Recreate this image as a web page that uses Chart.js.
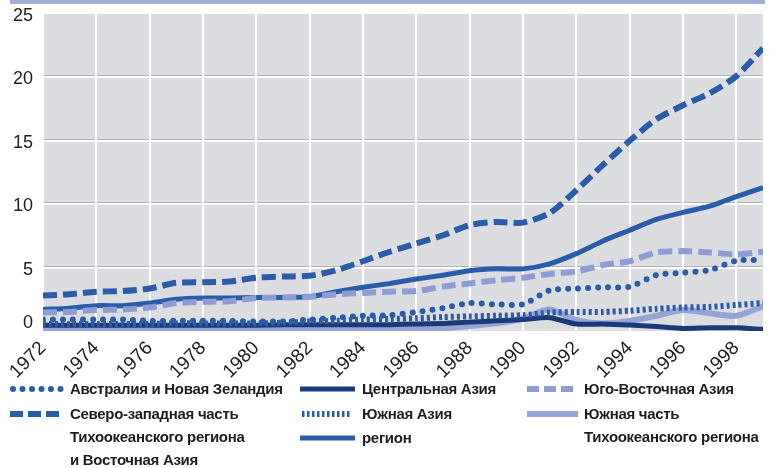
<!DOCTYPE html>
<html><head><meta charset="utf-8">
<script src="https://cdn.jsdelivr.net/npm/chart.js@4"></script>
<style>
html,body{margin:0;padding:0;background:#fff;}
#wrap{position:relative;width:779px;height:468px;overflow:hidden;font-family:"Liberation Sans",Arial,sans-serif;}
#topbar{position:absolute;left:10px;top:0;width:755px;height:4px;background:#a4afd8;}
#cv{position:absolute;left:0;top:0;}
.lg{position:absolute;font-weight:bold;font-size:15px;letter-spacing:-0.3px;color:#1e1e1e;line-height:23px;white-space:nowrap;}
.sw{position:absolute;}
</style></head><body>
<div id="wrap">
<canvas id="cv" width="779" height="381"></canvas>
<div id="topbar"></div>
<div id="legend"></div>
</div>
<script>
const years = [1972,1973,1974,1975,1976,1977,1978,1979,1980,1981,1982,1983,1984,1985,1986,1987,1988,1989,1990,1991,1992,1993,1994,1995,1996,1997,1998,1999];
const xTicks = [1972,1974,1976,1978,1980,1982,1984,1986,1988,1990,1992,1994,1996,1998];
const yTicks = [0,5,10,15,20,25];

const australia   = [0.9,0.9,0.9,0.9,0.8,0.8,0.8,0.8,0.75,0.75,0.9,1.05,1.2,1.25,1.5,1.8,2.2,2.1,2.1,3.2,3.35,3.45,3.5,4.4,4.6,4.8,5.55,5.6];
const nwPacific   = [2.8,2.9,3.1,3.15,3.35,3.8,3.85,3.9,4.2,4.3,4.35,4.8,5.5,6.25,6.9,7.55,8.35,8.6,8.55,9.3,11.1,13.1,15.0,16.7,17.8,18.75,20.1,22.3];
const centralAsia = [0.45,0.45,0.45,0.45,0.45,0.45,0.45,0.45,0.45,0.5,0.5,0.5,0.5,0.5,0.55,0.6,0.7,0.8,0.9,1.05,0.55,0.55,0.47,0.35,0.2,0.25,0.25,0.13];
const southAsia   = [0.55,0.55,0.55,0.55,0.55,0.6,0.6,0.6,0.6,0.65,0.75,0.8,0.9,0.95,1.0,1.1,1.15,1.2,1.25,1.45,1.5,1.5,1.6,1.75,1.85,1.9,2.05,2.2];
const region      = [1.7,1.8,2.0,2.0,2.2,2.5,2.6,2.6,2.65,2.65,2.7,3.1,3.45,3.75,4.1,4.4,4.75,4.9,4.9,5.3,6.1,7.1,7.95,8.8,9.35,9.85,10.6,11.3];
const seAsia      = [1.45,1.5,1.65,1.7,1.85,2.2,2.3,2.35,2.6,2.65,2.7,2.9,3.0,3.1,3.15,3.5,3.75,4.0,4.2,4.5,4.7,5.2,5.5,6.2,6.3,6.2,6.05,6.25];
const southPacific= [0.15,0.15,0.15,0.15,0.15,0.15,0.15,0.15,0.15,0.15,0.15,0.15,0.15,0.15,0.15,0.2,0.4,0.6,1.0,1.7,0.85,0.6,0.8,1.2,1.65,1.4,1.2,1.95];

const MID='#2a5ca9', NAVY='#1a3a78', LIGHT_D='#8e9ed4', LIGHT_S='#96a4d8';

const pts = arr => arr.map((v,i)=>({x:years[i], y:v}));
const base = {pointRadius:0, tension:0.25, fill:false};

const datasets = [
  {...base, label:'Северо-западная часть Тихоокеанского региона и Восточная Азия', data:pts(nwPacific), borderColor:MID, borderWidth:6, borderDash:[14,6]},
  {...base, label:'Юго-Восточная Азия', data:pts(seAsia), borderColor:LIGHT_D, borderWidth:6, borderDash:[14,6]},
  {...base, label:'регион', data:pts(region), borderColor:MID, borderWidth:5},
  {...base, label:'Австралия и Новая Зеландия', data:pts(australia), borderColor:MID, borderWidth:6, borderDash:[0,10], borderCapStyle:'round'},
  {...base, label:'Южная Азия', data:pts(southAsia), borderColor:MID, borderWidth:6, borderDash:[3,3]},
  {...base, label:'Центральная Азия', data:pts(centralAsia), borderColor:NAVY, borderWidth:5},
  {...base, label:'Южная часть Тихоокеанского региона', data:pts(southPacific), borderColor:LIGHT_S, borderWidth:6},
];

const bgPlugin = {
  id:'bg',
  beforeDraw(chart){
    const {ctx, chartArea:a} = chart;
    ctx.save(); ctx.fillStyle='#dcdde0';
    ctx.fillRect(a.left, a.top, a.right-a.left, a.bottom-a.top);
    const y = chart.scales.y;
    ctx.fillStyle='#b4b5b8';
    yTicks.forEach(v=>{ if(v>0 && v<25){ const py=Math.round(y.getPixelForValue(v)); ctx.fillRect(a.left, py-2, a.right-a.left, 1);} });
    ctx.restore();
  },
  afterDraw(chart){
    const {ctx} = chart; const y = chart.scales.y;
    ctx.save();
    ctx.font='18px "Liberation Sans", Arial, sans-serif';
    ctx.fillStyle='#222'; ctx.textAlign='right'; ctx.textBaseline='middle';
    yTicks.forEach(v=>{ let py=y.getPixelForValue(v)+2; if(v===0) py-=10; ctx.fillText(String(v), 33, py); });
    ctx.restore();
  }
};

new Chart(document.getElementById('cv'), {
  type:'line',
  data:{datasets},
  options:{
    responsive:false, animation:false,
    layout:{padding:{left:0,right:16,top:14,bottom:0}},
    plugins:{legend:{display:false}, tooltip:{enabled:false}},
    scales:{
      x:{type:'linear', min:1972, max:1999,
         afterBuildTicks(s){ s.ticks = xTicks.map(v=>({value:v})); },
         afterFit(s){ s.height=50; },
         ticks:{minRotation:45, maxRotation:45, color:'#222', padding:6, font:{family:'"Liberation Sans", Arial, sans-serif', size:19}, callback:v=>String(v)},
         grid:{color:'#ffffff', lineWidth:2, drawTicks:false}, border:{display:false}},
      y:{type:'linear', min:0, max:25,
         afterBuildTicks(s){ s.ticks = yTicks.map(v=>({value:v})); },
         afterFit(s){ s.width=43; },
         ticks:{display:false},
         grid:{color:c=>(c.tick && (c.tick.value===0||c.tick.value===25))?'rgba(0,0,0,0)':'#ffffff', lineWidth:2, drawTicks:false}, border:{display:false}}
    }
  },
  plugins:[bgPlugin]
});

const legendItems = [
  {x:10, y:389, w:52, color:MID, width:6, dash:'0 9.5', cap:'round', text:['Австралия и Новая Зеландия']},
  {x:10, y:414, w:52, color:MID, width:6, dash:'13 5', cap:'butt', text:['Северо-западная часть','Тихоокеанского региона','и Восточная Азия']},
  {x:300, y:389, w:55, color:NAVY, width:5, dash:'', cap:'butt', text:['Центральная Азия']},
  {x:302, y:414, w:48, color:MID, width:6, dash:'2.5 2.5', cap:'butt', text:['Южная Азия']},
  {x:300, y:438, w:55, color:MID, width:5, dash:'', cap:'butt', text:['регион']},
  {x:527, y:389, w:51, color:LIGHT_D, width:6, dash:'12 5', cap:'butt', text:['Юго-Восточная Азия']},
  {x:527, y:414, w:51, color:LIGHT_S, width:6, dash:'', cap:'butt', text:['Южная часть','Тихоокеанского региона']},
];
const textX = {10:70, 300:362, 302:362, 527:584};
const lg = document.getElementById('legend');
legendItems.forEach(it=>{
  const sv = document.createElementNS('http://www.w3.org/2000/svg','svg');
  sv.setAttribute('width', it.w+6); sv.setAttribute('height', 10);
  sv.setAttribute('class','sw');
  sv.style.left=(it.x-3)+'px'; sv.style.top=(it.y-5)+'px';
  const ln = document.createElementNS('http://www.w3.org/2000/svg','line');
  ln.setAttribute('x1', it.cap==='round'?6:3); ln.setAttribute('x2', it.w+3);
  ln.setAttribute('y1',5); ln.setAttribute('y2',5);
  ln.setAttribute('stroke', it.color); ln.setAttribute('stroke-width', it.width);
  if(it.dash) ln.setAttribute('stroke-dasharray', it.dash);
  ln.setAttribute('stroke-linecap', it.cap);
  sv.appendChild(ln); lg.appendChild(sv);
  const d = document.createElement('div');
  d.className='lg'; d.style.left=textX[it.x]+'px'; d.style.top=(it.y-12)+'px';
  d.innerHTML = it.text.join('<br>');
  lg.appendChild(d);
});
</script>
</body></html>
